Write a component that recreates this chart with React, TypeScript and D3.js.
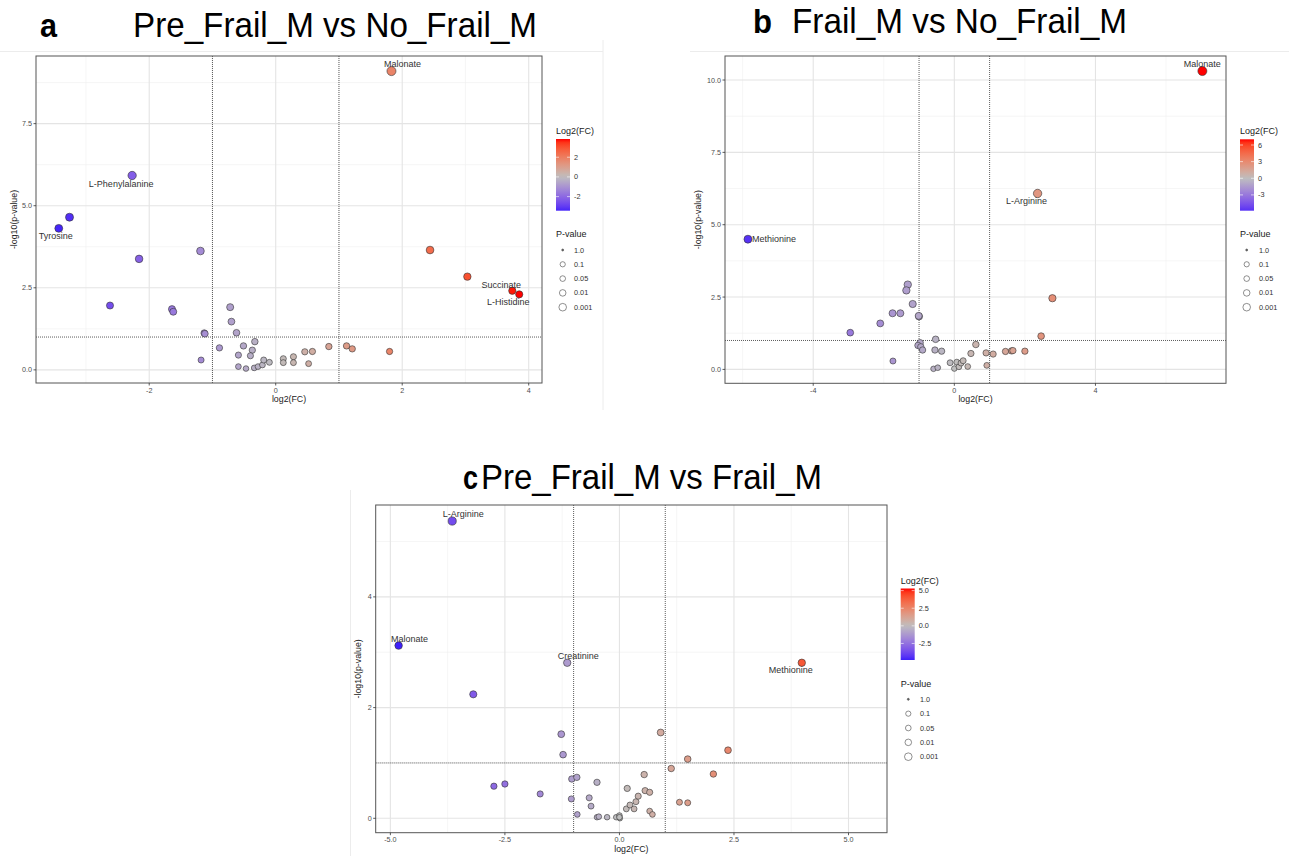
import React from "react";
import * as d3 from "d3";

// ---------------- Panel a: Pre_Frail_M vs No_Frail_M ----------------
const aLog2FC = [-3.43, -3.26, -2.27, -2.16, -2.62, -1.64, -1.62, -1.19, -1.13, -1.12, -1.18, -0.89, -0.72, -0.70, -0.62, -0.51, -0.33, -0.59, -0.37, -0.40, -0.59, -0.47, -0.34, -0.28, -0.21, -0.19, -0.10, 0.12, 0.12, 0.28, 0.28, 0.46, 0.58, 0.52, 0.84, 1.12, 1.21, 1.80, 1.83, 2.44, 3.03, 3.74, 3.85];
const aNegLogP = [4.31, 4.65, 5.92, 3.38, 1.96, 1.85, 1.77, 3.62, 1.12, 1.10, 0.30, 0.67, 1.91, 1.47, 1.13, 0.73, 0.86, 0.45, 0.60, 0.43, 0.10, 0.04, 0.06, 0.10, 0.15, 0.30, 0.23, 0.34, 0.22, 0.40, 0.22, 0.55, 0.56, 0.19, 0.71, 0.73, 0.64, 0.56, 9.10, 3.65, 2.84, 2.41, 2.30];
const aNames = ["Tyrosine", "", "L-Phenylalanine", "", "", "", "", "", "", "", "", "", "", "", "", "", "", "", "", "", "", "", "", "", "", "", "", "", "", "", "", "", "", "", "", "", "", "", "Malonate", "", "", "Succinate", "L-Histidine"];
const aXTicks = [-2, 0, 2, 4];
const aYTicks = [0, 2.5, 5, 7.5];
const aColorTicks = [-2, 0, 2];

// ---------------- Panel b: Frail_M vs No_Frail_M ----------------
const bLog2FC = [-5.85, -2.95, -2.10, -1.75, -1.53, -1.32, -1.36, -1.18, -1.00, -1.01, -1.74, -0.97, -1.03, -0.95, -0.90, -0.53, -0.55, -0.36, -0.59, -0.47, -0.12, 0.07, 0.00, 0.13, 0.19, 0.25, 0.38, 0.47, 0.61, 0.90, 0.92, 1.10, 1.45, 1.62, 1.66, 2.00, 2.46, 2.78, 2.36, 7.03];
const bNegLogP = [4.50, 1.27, 1.59, 1.94, 1.94, 2.93, 2.73, 2.26, 1.83, 1.85, 0.29, 0.92, 0.83, 0.78, 0.67, 1.04, 0.67, 0.63, 0.02, 0.06, 0.23, 0.25, 0.03, 0.09, 0.22, 0.30, 0.10, 0.55, 0.86, 0.57, 0.14, 0.53, 0.62, 0.64, 0.65, 0.63, 1.15, 2.46, 6.08, 10.31];
const bNames = ["Methionine", "", "", "", "", "", "", "", "", "", "", "", "", "", "", "", "", "", "", "", "", "", "", "", "", "", "", "", "", "", "", "", "", "", "", "", "", "", "L-Arginine", "Malonate"];
const bXTicks = [-4, 0, 4];
const bYTicks = [0, 2.5, 5, 7.5, 10];
const bColorTicks = [-3, 0, 3, 6];

// ---------------- Panel c: Pre_Frail_M vs Frail_M ----------------
const cLog2FC = [-4.82, -3.65, -3.19, -1.14, -1.27, -1.23, -2.74, -2.50, -1.73, -1.04, -0.93, -1.05, -0.92, -0.49, -0.66, -0.62, -0.49, -0.45, -0.27, -0.07, 0.00, 0.01, 0.00, 0.15, 0.17, 0.23, 0.32, 0.36, 0.41, 0.54, 0.56, 0.66, 0.66, 0.72, 0.90, 1.13, 1.49, 1.31, 1.49, 2.05, 2.37, 3.98];
const cNegLogP = [3.12, 5.37, 2.24, 2.81, 1.52, 1.15, 0.58, 0.62, 0.44, 0.71, 0.74, 0.35, 0.07, 0.65, 0.37, 0.22, 0.02, 0.03, 0.02, 0.02, 0.05, 0.00, 0.02, 0.17, 0.54, 0.24, 0.17, 0.30, 0.40, 0.79, 0.50, 0.47, 0.13, 0.07, 1.55, 0.90, 1.07, 0.29, 0.28, 0.80, 1.23, 2.81];
const cNames = ["Malonate", "L-Arginine", "", "Creatinine", "", "", "", "", "", "", "", "", "", "", "", "", "", "", "", "", "", "", "", "", "", "", "", "", "", "", "", "", "", "", "", "", "", "", "", "", "", "Methionine"];
const cXTicks = [-5, -2.5, 0, 2.5, 5];
const cYTicks = [0, 2, 4];
const cColorTicks = [-2.5, 0, 2.5, 5];

// shared legend
const pValueBreaks = [1.0, 0.1, 0.05, 0.01, 0.001];
const pValueLabels = ["1.0", "0.1", "0.05", "0.01", "0.001"];

// ---------------- layout (not data) ----------------
type LabelOffset = Record<string, [number, number]>;

interface PanelCfg {
  id: string;
  fc: number[];
  nlp: number[];
  names: string[];
  xTicks: number[];
  yTicks: number[];
  xFmt: (v: number) => string;
  yFmt: (v: number) => string;
  cTicks: number[];
  cFmt: (v: number) => string;
  xDomain: [number, number];
  yDomain: [number, number];
  cDomain: [number, number];
  left: number; right: number; top: number; bottom: number;
  legX: number; legTitleY: number; barTop: number; barBottom: number;
  pTitleY: number; pItemY0: number; pItemStep: number; pCircleX: number; pLabelX: number;
  labelOff: LabelOffset;
  ylabX: number;
}

const fmt1 = (v: number) => v.toFixed(1);
const fmt0 = (v: number) => String(v);

const panels: PanelCfg[] = [
  {
    id: "a", fc: aLog2FC, nlp: aNegLogP, names: aNames,
    xTicks: aXTicks, yTicks: aYTicks, xFmt: fmt0, yFmt: fmt1,
    cTicks: aColorTicks, cFmt: fmt0,
    xDomain: [-3.79, 4.21], yDomain: [-0.40, 9.56], cDomain: [-3.43, 3.85],
    left: 36, right: 542, top: 56, bottom: 383,
    legX: 556, legTitleY: 134, barTop: 139, barBottom: 210.7,
    pTitleY: 237, pItemY0: 250, pItemStep: 14.3, pCircleX: 562.7, pLabelX: 574,
    labelOff: { "L-Phenylalanine": [-11, 8], Tyrosine: [-3, 7], Malonate: [11, -7], Succinate: [-11, -6], "L-Histidine": [-11, 7] },
    ylabX: 14,
  },
  {
    id: "b", fc: bLog2FC, nlp: bNegLogP, names: bNames,
    xTicks: bXTicks, yTicks: bYTicks, xFmt: fmt0, yFmt: fmt1,
    cTicks: bColorTicks, cFmt: fmt0,
    xDomain: [-6.5, 7.7], yDomain: [-0.48, 10.83], cDomain: [-5.85, 7.03],
    left: 725, right: 1226, top: 56, bottom: 383.3,
    legX: 1240, legTitleY: 134, barTop: 139.3, barBottom: 210.7,
    pTitleY: 237, pItemY0: 250, pItemStep: 14.3, pCircleX: 1246.7, pLabelX: 1259,
    labelOff: { Methionine: [26, 0], Malonate: [0, -7], "L-Arginine": [-11, 7] },
    ylabX: 698,
  },
  {
    id: "c", fc: cLog2FC, nlp: cNegLogP, names: cNames,
    xTicks: cXTicks, yTicks: cYTicks, xFmt: fmt1, yFmt: fmt0,
    cTicks: cColorTicks, cFmt: fmt1,
    xDomain: [-5.32, 5.84], yDomain: [-0.26, 5.66], cDomain: [-4.85, 5.3],
    left: 375.7, right: 887, top: 505, bottom: 832.7,
    legX: 900.7, legTitleY: 583.5, barTop: 588.5, barBottom: 660,
    pTitleY: 686.5, pItemY0: 699.3, pItemStep: 14.35, pCircleX: 908.3, pLabelX: 920,
    labelOff: { "L-Arginine": [11, -7], Malonate: [11, -7], Creatinine: [11, -7], Methionine: [-11, 7] },
    ylabX: 358,
  },
];

const FONT = "'Liberation Sans', Arial, Helvetica, sans-serif";
const TITLE_FONT = "'Liberation Sans Narrow', 'Liberation Sans', Arial, sans-serif";

function makeColor(cDomain: [number, number]) {
  const maxAbs = Math.max(Math.abs(cDomain[0]), Math.abs(cDomain[1]));
  const lo = d3.interpolateLab("#0000FF", "#BEBEBE");
  const hi = d3.interpolateLab("#BEBEBE", "#FF0000");
  return (v: number) => {
    const t = 0.5 + v / (2 * maxAbs);
    return t < 0.5 ? lo(Math.max(0, t) * 2) : hi(Math.min(1, (t - 0.5) * 2));
  };
}

const rPoint = d3.scalePow().exponent(0.5).domain([0, 9]).range([2.7, 4.5]).clamp(true);
const rLegend = d3.scaleSqrt().domain([0, 3]).range([1, 3.8]);

function Panel({ p }: { p: PanelCfg }) {
  const x = d3.scaleLinear().domain(p.xDomain).range([p.left, p.right]);
  const y = d3.scaleLinear().domain(p.yDomain).range([p.bottom, p.top]);
  const color = makeColor(p.cDomain);
  const cbar = d3.scaleLinear().domain(p.cDomain).range([p.barBottom, p.barTop]);

  const minor = (ticks: number[], dom: [number, number]) => {
    const step = ticks[1] - ticks[0];
    const out: number[] = [];
    for (let v = ticks[0] - step * 3 + step / 2; v < dom[1]; v += step) {
      if (v > dom[0]) out.push(v);
    }
    return out;
  };
  const xMinor = minor(p.xTicks, p.xDomain);
  const yMinor = minor(p.yTicks, p.yDomain);

  const gradId = `grad-${p.id}`;
  const stops = d3.range(0, 21).map((i) => {
    const v = p.cDomain[1] - (i / 20) * (p.cDomain[1] - p.cDomain[0]);
    return { off: i / 20, c: color(v) };
  });

  const pts = p.fc.map((fc, i) => ({ fc, nlp: p.nlp[i], name: p.names[i] }));
  const clipId = `clip-${p.id}`;
  const barW = 14;

  return (
    <g>
      <defs>
        <clipPath id={clipId}>
          <rect x={p.left} y={p.top} width={p.right - p.left} height={p.bottom - p.top} />
        </clipPath>
        <linearGradient id={gradId} x1="0" y1="0" x2="0" y2="1">
          {stops.map((s, i) => (
            <stop key={i} offset={s.off} stopColor={s.c} />
          ))}
        </linearGradient>
      </defs>
      <rect x={p.left} y={p.top} width={p.right - p.left} height={p.bottom - p.top} fill="#fff" />
      <g clipPath={`url(#${clipId})`}>
        {xMinor.map((v, i) => (
          <line key={"xm" + i} x1={x(v)} x2={x(v)} y1={p.top} y2={p.bottom} stroke="#f0f0f0" strokeWidth={0.6} />
        ))}
        {yMinor.map((v, i) => (
          <line key={"ym" + i} x1={p.left} x2={p.right} y1={y(v)} y2={y(v)} stroke="#f0f0f0" strokeWidth={0.6} />
        ))}
        {p.xTicks.map((v, i) => (
          <line key={"xM" + i} x1={x(v)} x2={x(v)} y1={p.top} y2={p.bottom} stroke="#e4e4e4" strokeWidth={1.1} />
        ))}
        {p.yTicks.map((v, i) => (
          <line key={"yM" + i} x1={p.left} x2={p.right} y1={y(v)} y2={y(v)} stroke="#e4e4e4" strokeWidth={1.1} />
        ))}
        {[-1, 1].map((v) => (
          <line key={"v" + v} x1={x(v)} x2={x(v)} y1={p.top} y2={p.bottom} stroke="#333" strokeWidth={0.8} strokeDasharray="1 1" />
        ))}
        <line x1={p.left} x2={p.right} y1={y(1)} y2={y(1)} stroke="#333" strokeWidth={0.8} strokeDasharray="1 1" />
        {pts.map((d, i) => (
          <circle key={i} cx={x(d.fc)} cy={y(d.nlp)} r={rPoint(d.nlp)} fill={color(d.fc)} stroke="#333" strokeWidth={0.6} />
        ))}
      </g>
      {pts.filter((d) => d.name).map((d, i) => {
        const off = p.labelOff[d.name] || [0, -7];
        return (
          <text key={"lab" + i} x={x(d.fc) + off[0]} y={y(d.nlp) + off[1]} dy="0.35em" textAnchor="middle" fontFamily={FONT} fontSize={9} fill="#333">
            {d.name}
          </text>
        );
      })}
      <rect x={p.left} y={p.top} width={p.right - p.left} height={p.bottom - p.top} fill="none" stroke="#555" strokeWidth={1} />
      {p.xTicks.map((v, i) => (
        <g key={"xt" + i}>
          <line x1={x(v)} x2={x(v)} y1={p.bottom} y2={p.bottom + 2.5} stroke="#333" strokeWidth={0.8} />
          <text x={x(v)} y={p.bottom + 9.5} textAnchor="middle" fontFamily={FONT} fontSize={7.2} fill="#4d4d4d">
            {p.xFmt(v)}
          </text>
        </g>
      ))}
      {p.yTicks.map((v, i) => (
        <g key={"yt" + i}>
          <line x1={p.left - 2.5} x2={p.left} y1={y(v)} y2={y(v)} stroke="#333" strokeWidth={0.8} />
          <text x={p.left - 4} y={y(v)} dy="0.35em" textAnchor="end" fontFamily={FONT} fontSize={7.2} fill="#4d4d4d">
            {p.yFmt(v)}
          </text>
        </g>
      ))}
      <text x={(p.left + p.right) / 2} y={p.bottom + 19} textAnchor="middle" fontFamily={FONT} fontSize={8.8} fill="#222">
        log2(FC)
      </text>
      <text transform={`translate(${p.ylabX},${(p.top + p.bottom) / 2}) rotate(-90)`} textAnchor="middle" dy="0.35em" fontFamily={FONT} fontSize={8.8} fill="#222">
        -log10(p-value)
      </text>
      <text x={p.legX} y={p.legTitleY} fontFamily={FONT} fontSize={9} fill="#222">
        Log2(FC)
      </text>
      <rect x={p.legX} y={p.barTop} width={barW} height={p.barBottom - p.barTop} fill={`url(#${gradId})`} />
      {p.cTicks.map((v, i) => (
        <g key={"ct" + i}>
          <line x1={p.legX} x2={p.legX + 3} y1={cbar(v)} y2={cbar(v)} stroke="#fff" strokeWidth={0.6} />
          <line x1={p.legX + barW - 3} x2={p.legX + barW} y1={cbar(v)} y2={cbar(v)} stroke="#fff" strokeWidth={0.6} />
          <text x={p.legX + barW + 4} y={cbar(v)} dy="0.35em" fontFamily={FONT} fontSize={7.3} fill="#333">
            {p.cFmt(v)}
          </text>
        </g>
      ))}
      <text x={p.legX} y={p.pTitleY} fontFamily={FONT} fontSize={9} fill="#222">
        P-value
      </text>
      {pValueBreaks.map((pv, i) => (
        <g key={"pv" + i}>
          <circle cx={p.pCircleX} cy={p.pItemY0 + i * p.pItemStep} r={rLegend(-Math.log10(pv))} fill={i === 0 ? "#666" : "#fff"} stroke="#444" strokeWidth={0.6} />
          <text x={p.pLabelX} y={p.pItemY0 + i * p.pItemStep} dy="0.35em" fontFamily={FONT} fontSize={7.3} fill="#333">
            {pValueLabels[i]}
          </text>
        </g>
      ))}
    </g>
  );
}

export default function App() {
  return (
    <svg width={1289} height={856} style={{ position: "absolute", left: 0, top: 0, background: "#fff" }} fontFamily={FONT}>
      <rect x={0} y={0} width={1289} height={856} fill="#fff" />
      <line x1={0} x2={603} y1={51.5} y2={51.5} stroke="#ececec" strokeWidth={1} />
      <line x1={603} x2={603} y1={40} y2={410} stroke="#ececec" strokeWidth={1} />
      <line x1={690} x2={1289} y1={51.5} y2={51.5} stroke="#ececec" strokeWidth={1} />
      <line x1={350.5} x2={350.5} y1={490} y2={856} stroke="#ececec" strokeWidth={1} />
      {panels.map((p) => (
        <Panel key={p.id} p={p} />
      ))}
      <text x={40} y={37} fontFamily={TITLE_FONT} fontWeight="bold" fontSize={33} fill="#000" textLength={17} lengthAdjust="spacingAndGlyphs">a</text>
      <text x={133} y={37} fontFamily={TITLE_FONT} fontSize={35} fill="#000" textLength={404} lengthAdjust="spacingAndGlyphs">Pre_Frail_M vs No_Frail_M</text>
      <text x={753} y={33} fontFamily={TITLE_FONT} fontWeight="bold" fontSize={33} fill="#000" textLength={19} lengthAdjust="spacingAndGlyphs">b</text>
      <text x={792} y={33} fontFamily={TITLE_FONT} fontSize={35} fill="#000" textLength={335} lengthAdjust="spacingAndGlyphs">Frail_M vs No_Frail_M</text>
      <text x={463} y={489} fontFamily={TITLE_FONT} fontWeight="bold" fontSize={33} fill="#000" textLength={15} lengthAdjust="spacingAndGlyphs">c</text>
      <text x={481} y={489} fontFamily={TITLE_FONT} fontSize={35} fill="#000" textLength={341} lengthAdjust="spacingAndGlyphs">Pre_Frail_M vs Frail_M</text>
    </svg>
  );
}
